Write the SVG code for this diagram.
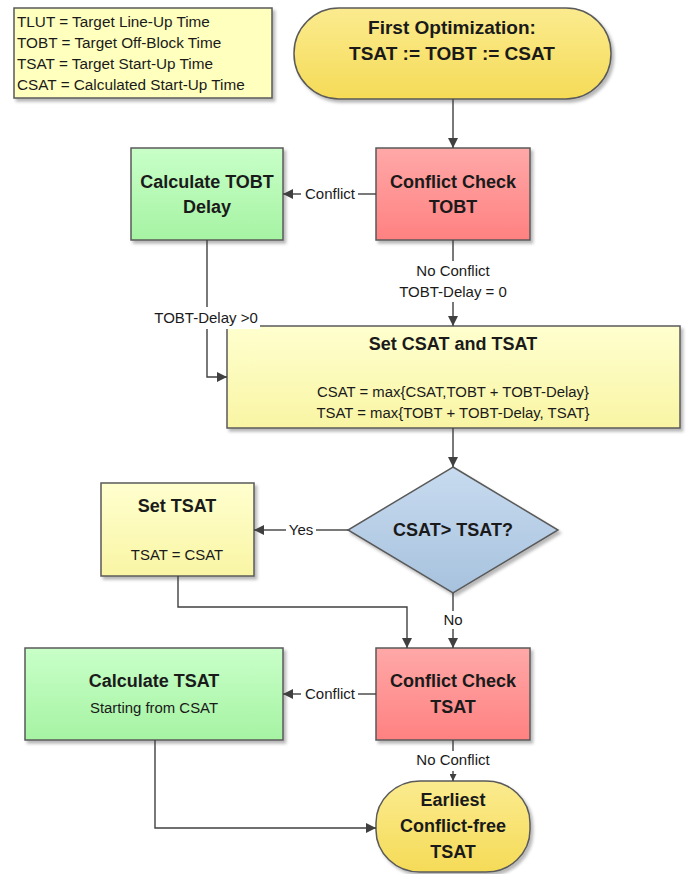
<svg xmlns="http://www.w3.org/2000/svg" width="688" height="874" viewBox="0 0 688 874">
<style>
.t{font-family:"Liberation Sans",Arial,sans-serif;fill:#1a1a1a;text-anchor:middle}
.b{font-weight:bold;font-size:18px}
.n{font-size:14.9px}
.lg{font-family:"Liberation Sans",Arial,sans-serif;font-size:15.3px;fill:#1a1a1a}
.lbl{font-family:"Liberation Sans",Arial,sans-serif;font-size:15px;fill:#1a1a1a;text-anchor:middle}
.node{stroke:#5a5a5a;stroke-width:1.5}
.c{fill:none;stroke:#404040;stroke-width:1.4}
</style>
<defs>
<filter id="sh" x="-10%" y="-10%" width="125%" height="130%">
<feDropShadow dx="2.5" dy="3" stdDeviation="1.5" flood-color="#000" flood-opacity="0.28"/>
</filter>
<linearGradient id="gy" x1="0" y1="0" x2="0" y2="1"><stop offset="0" stop-color="#fbeb8f"/><stop offset="1" stop-color="#f5db57"/></linearGradient>
<linearGradient id="gl" x1="0" y1="0" x2="0" y2="1"><stop offset="0" stop-color="#ffffcf"/><stop offset="1" stop-color="#f9f5a4"/></linearGradient>
<linearGradient id="gg" x1="0" y1="0" x2="0" y2="1"><stop offset="0" stop-color="#c8ffc8"/><stop offset="1" stop-color="#a6f3a3"/></linearGradient>
<linearGradient id="gr" x1="0" y1="0" x2="0" y2="1"><stop offset="0" stop-color="#ffa8a8"/><stop offset="1" stop-color="#ff8181"/></linearGradient>
<linearGradient id="gb" x1="0" y1="0" x2="0" y2="1"><stop offset="0" stop-color="#c8dbef"/><stop offset="1" stop-color="#a7c2de"/></linearGradient>
<marker id="ar" viewBox="0 0 10 10" refX="10" refY="5" markerWidth="10" markerHeight="10" markerUnits="userSpaceOnUse" orient="auto">
<path d="M0,0 L10,5 L0,10 z" fill="#404040"/>
</marker>
<marker id="ars" viewBox="0 0 10 10" refX="10" refY="5" markerWidth="7" markerHeight="7" markerUnits="userSpaceOnUse" orient="auto">
<path d="M0,0 L10,5 L0,10 z" fill="#404040"/>
</marker>
</defs>

<g id="legend">
<rect x="14" y="8" width="258" height="90" fill="#ffffbe" class="node" filter="url(#sh)"/>
<text class="lg" x="17" y="27">TLUT = Target Line-Up Time</text>
<text class="lg" x="17" y="48">TOBT = Target Off-Block Time</text>
<text class="lg" x="17" y="69">TSAT = Target Start-Up Time</text>
<text class="lg" x="17" y="90">CSAT = Calculated Start-Up Time</text>
</g>

<g id="start">
<rect x="294" y="8" width="317" height="91" rx="45" ry="45" fill="url(#gy)" class="node" filter="url(#sh)"/>
<text class="t b" x="452" y="34" style="font-size:19px">First Optimization:</text>
<text class="t b" x="452" y="60" style="font-size:19px">TSAT := TOBT := CSAT</text>
</g>

<g id="check-tobt">
<rect x="376" y="148" width="154" height="92" fill="url(#gr)" class="node" filter="url(#sh)"/>
<text class="t b" x="453" y="188">Conflict Check</text>
<text class="t b" x="453" y="213">TOBT</text>
</g>

<g id="calc-tobt">
<rect x="131" y="148" width="152" height="92" fill="url(#gg)" class="node" filter="url(#sh)"/>
<text class="t b" x="207" y="188">Calculate TOBT</text>
<text class="t b" x="207" y="213">Delay</text>
</g>

<g id="set-csat-tsat">
<rect x="227" y="326" width="453" height="102" fill="url(#gl)" class="node" filter="url(#sh)"/>
<text class="t b" x="453" y="350">Set CSAT and TSAT</text>
<text class="t n" x="453" y="397">CSAT = max{CSAT,TOBT + TOBT-Delay}</text>
<text class="t n" x="453" y="418">TSAT = max{TOBT + TOBT-Delay, TSAT}</text>
</g>

<g id="decision">
<polygon points="453,467 558,530 453,593 348,530" fill="url(#gb)" class="node" filter="url(#sh)"/>
<text class="t b" x="453" y="536">CSAT&gt; TSAT?</text>
</g>

<g id="set-tsat">
<rect x="101" y="483" width="153" height="93" fill="url(#gl)" class="node" filter="url(#sh)"/>
<text class="t b" x="177" y="512">Set TSAT</text>
<text class="t n" x="177" y="560">TSAT = CSAT</text>
</g>

<g id="check-tsat">
<rect x="376" y="648" width="154" height="92" fill="url(#gr)" class="node" filter="url(#sh)"/>
<text class="t b" x="453" y="687">Conflict Check</text>
<text class="t b" x="453" y="713">TSAT</text>
</g>

<g id="calc-tsat">
<rect x="25" y="648" width="258" height="92" fill="url(#gg)" class="node" filter="url(#sh)"/>
<text class="t b" x="154" y="687">Calculate TSAT</text>
<text class="t n" x="154" y="713" fill="#333">Starting from CSAT</text>
</g>

<g id="end">
<rect x="376" y="781" width="154" height="91" rx="44" ry="42" fill="url(#gy)" class="node" filter="url(#sh)"/>
<text class="t b" x="453" y="806">Earliest</text>
<text class="t b" x="453" y="832">Conflict-free</text>
<text class="t b" x="453" y="858">TSAT</text>
</g>

<g id="connectors">
<path class="c" d="M453,99 V148" marker-end="url(#ar)"/>
<path class="c" d="M376,194 H358"/>
<path class="c" d="M301,194 H283" marker-end="url(#ar)"/>
<text class="lbl" x="330" y="199">Conflict</text>
<path class="c" d="M453,240 V261"/>
<path class="c" d="M453,302 V326" marker-end="url(#ar)"/>
<text class="lbl" x="453" y="276">No Conflict</text>
<text class="lbl" x="453" y="297">TOBT-Delay = 0</text>
<path class="c" d="M207,240 V377 H227" marker-end="url(#ar)"/>
<rect x="150" y="307" width="110" height="22" fill="#fff"/>
<text class="lbl" x="206" y="323">TOBT-Delay &gt;0</text>
<path class="c" d="M453,428 V467" marker-end="url(#ar)"/>
<path class="c" d="M348,530 H316"/>
<path class="c" d="M286,530 H254" marker-end="url(#ar)"/>
<text class="lbl" x="301" y="535">Yes</text>
<path class="c" d="M178,576 V607 H407 V648" marker-end="url(#ar)"/>
<path class="c" d="M453,593 V611"/>
<path class="c" d="M453,629 V648" marker-end="url(#ar)"/>
<text class="lbl" x="453" y="625">No</text>
<path class="c" d="M376,694 H358"/>
<path class="c" d="M301,694 H283" marker-end="url(#ar)"/>
<text class="lbl" x="330" y="699">Conflict</text>
<path class="c" d="M453,740 V751"/>
<path class="c" d="M453,771 V781" marker-end="url(#ars)"/>
<text class="lbl" x="453" y="765">No Conflict</text>
<path class="c" d="M155,740 V828 H376" marker-end="url(#ar)"/>
</g>
</svg>
